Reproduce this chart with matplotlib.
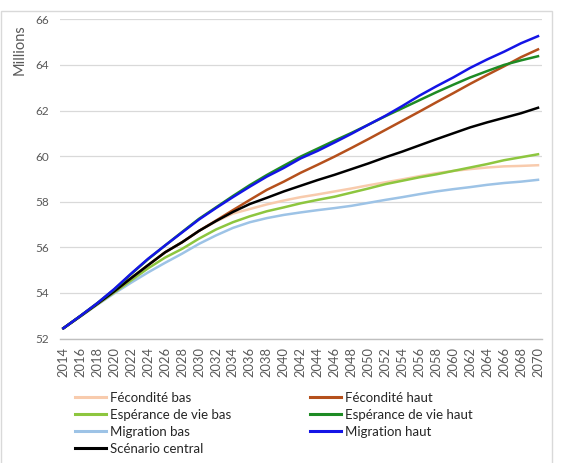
import matplotlib
matplotlib.use("Agg")
import matplotlib.pyplot as plt
from matplotlib.patches import Rectangle
from matplotlib.lines import Line2D

years = list(range(2014, 2071, 2))

central = [52.45, 52.98, 53.52, 54.07, 54.65, 55.22, 55.78, 56.22, 56.72, 57.15,
           57.55, 57.90, 58.17, 58.45, 58.70, 58.95, 59.18, 59.43, 59.68, 59.95,
           60.20, 60.47, 60.74, 61.00, 61.26, 61.48, 61.68, 61.88, 62.12]
migration_haut = [52.45, 52.99, 53.55, 54.17, 54.85, 55.50, 56.08, 56.65, 57.22, 57.72,
                  58.20, 58.66, 59.10, 59.48, 59.90, 60.23, 60.60, 60.98, 61.38, 61.77,
                  62.20, 62.65, 63.06, 63.45, 63.87, 64.24, 64.58, 64.95, 65.26]
esperance_haut = [52.45, 52.99, 53.55, 54.15, 54.83, 55.48, 56.08, 56.67, 57.25, 57.75,
                  58.25, 58.73, 59.17, 59.58, 59.98, 60.33, 60.68, 61.02, 61.38, 61.75,
                  62.10, 62.45, 62.80, 63.13, 63.45, 63.73, 64.00, 64.20, 64.38]
fecondite_haut = [52.45, 52.98, 53.52, 54.07, 54.65, 55.22, 55.78, 56.22, 56.72, 57.17,
                  57.63, 58.08, 58.52, 58.88, 59.27, 59.62, 59.98, 60.36, 60.75, 61.15,
                  61.55, 61.95, 62.36, 62.76, 63.17, 63.56, 63.94, 64.34, 64.68]
fecondite_bas = [52.45, 52.98, 53.52, 54.07, 54.65, 55.22, 55.78, 56.22, 56.72, 57.13,
                 57.48, 57.68, 57.88, 58.05, 58.20, 58.32, 58.45, 58.58, 58.72, 58.85,
                 58.98, 59.12, 59.25, 59.35, 59.43, 59.50, 59.55, 59.57, 59.60]
esperance_bas = [52.45, 52.97, 53.50, 54.02, 54.55, 55.08, 55.55, 55.93, 56.38, 56.78,
                 57.10, 57.36, 57.58, 57.75, 57.93, 58.08, 58.22, 58.40, 58.58, 58.77,
                 58.92, 59.07, 59.20, 59.35, 59.50, 59.65, 59.82, 59.95, 60.08]
migration_bas = [52.45, 52.96, 53.48, 53.98, 54.45, 54.90, 55.32, 55.72, 56.15, 56.52,
                 56.85, 57.10, 57.28, 57.42, 57.53, 57.63, 57.72, 57.82, 57.95, 58.08,
                 58.20, 58.33, 58.45, 58.55, 58.64, 58.74, 58.82, 58.88, 58.96]

labels = ["Fécondité bas", "Fécondité haut", "Espérance de vie bas", "Espérance de vie haut",
          "Migration bas", "Migration haut", "Scénario central"]
series = [fecondite_bas, fecondite_haut, esperance_bas, esperance_haut,
          migration_bas, migration_haut, central]
colors = ["#F8CBAD", "#B5501C", "#8DC63F", "#1E8B24", "#9DC3E6", "#1414E6", "#000000"]

plt.rcParams['font.family'] = ['Lato', 'DejaVu Sans']

fig = plt.figure(figsize=(5.62, 4.63), dpi=100)
ax = fig.add_axes([60/562, 1-338.5/463, (542-60)/562, (338.5-19.3)/463])

order = [4, 0, 2, 1, 6, 3, 5]
for i in order:
    ax.plot(years, series[i], color=colors[i], lw=1.8, label=labels[i],
            solid_joinstyle='round')

ax.set_ylim(52, 66)
ax.set_yticks(range(52, 67, 2))
ax.set_xlim(2013.6, 2070.47)
ax.set_xticks(years)
ax.set_xticklabels([str(y) for y in years], rotation=90)
ax.grid(axis='y', color='#D9D9D9', lw=0.9)
ax.set_axisbelow(True)
for s in ['top', 'right', 'left']:
    ax.spines[s].set_visible(False)
ax.spines['bottom'].set_color('#BFBFBF')
ax.spines['bottom'].set_linewidth(1.0)
ax.tick_params(axis='both', length=0, colors='#595959')
ax.tick_params(axis='y', pad=8, labelsize=8.5)
ax.tick_params(axis='x', pad=6, labelsize=9.3)

fig.text(20/562, 1-50/463, "Millions", rotation=90, ha='center', va='center',
         color='#595959', fontsize=10.5)

def mk(i):
    return Line2D([0], [0], color=colors[i], lw=2.2)

col1 = [0, 2, 4, 6]
col2 = [1, 3, 5]
kw = dict(loc='upper left', frameon=False, fontsize=9.5, handlelength=2.35,
          handletextpad=0.27, labelspacing=0.38, borderaxespad=0, borderpad=0,
          labelcolor='#262626')
fig.legend([mk(i) for i in col1], [labels[i] for i in col1],
           bbox_to_anchor=(75/562, 1-392/463), **kw)
fig.legend([mk(i) for i in col2], [labels[i] for i in col2],
           bbox_to_anchor=(310/562, 1-392/463), **kw)

fig.patches.append(Rectangle((1/562, -0.05), (552-1)/562, 1.05-11/463,
                             transform=fig.transFigure, fill=False,
                             edgecolor='#D9D9D9', lw=1.0))

fig.savefig("out.png", dpi=100, facecolor='white')
